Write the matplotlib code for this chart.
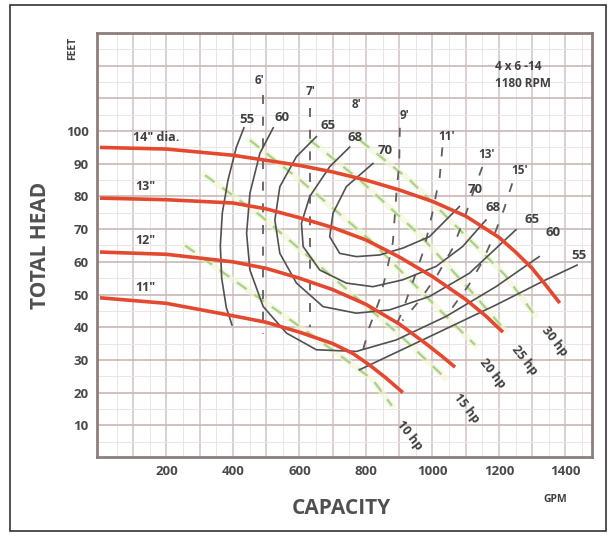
import matplotlib.pyplot as plt
from matplotlib.patches import Rectangle

plt.rcParams['font.family'] = ['Open Sans', 'DejaVu Sans']

# head-capacity curves, one per impeller diameter (GPM, feet)
dia_labels = ['14" dia.', '13"', '12"', '11"']
dia_label_pos = [(99, 97.9), (105, 82.9), (105, 66.5), (105, 52.3)]
q_14 = [0, 200, 400, 600, 700, 800, 900, 1000, 1100, 1200, 1250, 1300, 1340, 1383]
h_14 = [95, 94.5, 92.6, 89.5, 87.5, 85, 82, 78.5, 74, 67.5, 63, 58, 53, 47.4]
q_13 = [0, 200, 400, 500, 600, 700, 800, 900, 1000, 1100, 1160, 1212]
h_13 = [79.5, 79, 78, 76.2, 73.5, 70.5, 66.7, 61.5, 55.5, 48.5, 43.5, 38.5]
q_12 = [0, 200, 400, 500, 600, 700, 800, 900, 980, 1030, 1068]
h_12 = [63, 62.3, 60, 58, 55, 51.5, 47, 41, 35, 31, 27.8]
q_11 = [0, 200, 400, 500, 600, 700, 760, 810, 860, 911]
h_11 = [49, 47.3, 43.5, 41.5, 38.5, 35, 32, 28.5, 24.5, 20]

# iso-efficiency curves (%)
eff_55_left_q = [433, 410, 385, 368, 362, 366, 380, 397]
eff_55_left_h = [101, 95, 85, 75, 65, 55, 46, 40.7]
eff_55_right_q = [781, 991, 1191, 1341, 1435]
eff_55_right_h = [27, 37.1, 46.8, 54.5, 59]
eff_60_q = [521, 481, 451, 441, 451, 491, 561, 651, 771, 891, 1041, 1191, 1321]
eff_60_h = [101, 93.2, 81, 68.7, 57.5, 46.3, 38.2, 33.1, 32.6, 36.1, 43.3, 52.4, 61.6]
eff_65_q = [651, 591, 541, 526, 541, 591, 671, 771, 871, 991, 1111, 1251]
eff_65_h = [98.3, 92.2, 83, 72.8, 62.6, 53.5, 46.3, 44.3, 45.3, 49.4, 56.5, 69.8]
eff_68_q = [751, 691, 631, 606, 611, 661, 741, 821, 911, 1011, 1091, 1161]
eff_68_h = [95.1, 89.1, 80, 71.8, 64.7, 57.5, 53.5, 52.4, 54.5, 58.6, 64.7, 72.8]
eff_70_q = [821, 741, 701, 691, 721, 771, 841, 911, 991, 1081]
eff_70_h = [90.1, 83, 74.9, 67.7, 62.6, 61.6, 62.1, 64.2, 67.7, 76.9]

eff_top_labels = ['55', '60', '65', '68', '70']
eff_top_pos = [(442, 103.4), (547, 104), (686, 101.8), (767, 97.9), (857, 94.2)]
eff_right_labels = ['70', '68', '65', '60', '55']
eff_right_pos = [(1128, 82), (1183, 76.5), (1299, 72.8), (1362, 69.1), (1440, 62)]

# NPSH required (dashed)
npsh_labels = ["6'", "7'", "8'", "9'", "11'", "13'", "15'"]
npsh_label_pos = [(481, 115.6), (632, 112), (773, 108), (917, 104.9),
                  (1044, 98.2), (1164, 92.7), (1263, 88)]
npsh_6_q = [490, 490]
npsh_6_h = [111, 38]
npsh_7_q = [632, 632]
npsh_7_h = [107, 40]
npsh_9_q = [902, 900, 891, 881, 861, 841, 811, 791]
npsh_9_h = [101, 90, 80, 66, 56.5, 48.4, 40.2, 33]
npsh_11_q = [1030, 1022, 1000, 975, 945, 910, 880]
npsh_11_h = [95, 86, 75, 64, 55, 45, 38]
npsh_13_q = [1150, 1125, 1095, 1060, 1015, 960, 910]
npsh_13_h = [89, 82, 73, 64, 56, 48, 42]
npsh_15_q = [1240, 1215, 1185, 1150, 1110, 1060]
npsh_15_h = [84, 76, 68, 60, 53, 46]

# brake horsepower lines
hp_labels = ['10 hp', '15 hp', '20 hp', '25 hp', '30 hp']
hp_label_pos = [(932, 7), (1101, 15.3), (1182, 26), (1278, 30), (1368, 35.8)]
hp_10_q = [256, 436, 562, 700, 820, 878]
hp_10_h = [65, 52, 43, 33, 24, 16]
hp_15_q = [316, 481, 692, 902, 1038]
hp_15_h = [86.5, 74.3, 56, 37.6, 24.5]
hp_20_q = [451, 602, 812, 992, 1128]
hp_20_h = [97.2, 85, 66.7, 48.3, 34.6]
hp_25_q = [632, 782, 962, 1113, 1218]
hp_25_h = [97.2, 85, 68.2, 51.4, 39.1]
hp_30_q = [782, 932, 1083, 1218, 1308]
hp_30_h = [97.2, 85, 69.7, 56, 43.7]

x_ticks = [200, 400, 600, 800, 1000, 1200, 1400]
y_ticks = [10, 20, 30, 40, 50, 60, 70, 80, 90, 100]

W, H = 614, 538
fig = plt.figure(figsize=(W / 100, H / 100), dpi=100)
fig.patch.set_facecolor('white')
fig.patches.append(Rectangle((10 / W, 1 - 531 / H), 596 / W, 526 / H,
                             transform=fig.transFigure, fill=False,
                             edgecolor='#333333', lw=1.2))

ax = fig.add_axes([97 / W, 1 - 457 / H, (592 - 97) / W, (457 - 33) / H])
ax.set_xlim(-9, 1480)
ax.set_ylim(0.3, 130)

# grid
for x in range(50, 1480, 100):
    ax.axvline(x, color='#ece5e3', lw=0.7, zorder=0)
for x in range(100, 1480, 100):
    ax.axvline(x, color='#d0c2bf', lw=1.1, zorder=0)
for y in range(5, 130, 10):
    ax.axhline(y, color='#ece5e3', lw=0.7, zorder=0)
for y in range(10, 130, 10):
    ax.axhline(y, color='#cbbdba', lw=1.3, zorder=0)

for s in ax.spines.values():
    s.set_color('#8d7e7b')
    s.set_linewidth(2)

ax.set_xticks(x_ticks)
ax.set_yticks(y_ticks)
ax.tick_params(length=0, labelsize=9.5, labelcolor='#4a4a4a', pad=6)
for lab in ax.get_xticklabels() + ax.get_yticklabels():
    lab.set_fontweight('bold')

# horsepower lines (light green dashes with a pale glow)
hp_series = [(hp_10_q, hp_10_h), (hp_15_q, hp_15_h), (hp_20_q, hp_20_h),
             (hp_25_q, hp_25_h), (hp_30_q, hp_30_h)]
for q, h in hp_series:
    ax.plot(q, h, color='#f2f4d6', lw=4.5, alpha=0.6, zorder=1)
    ax.plot(q, h, color='#a9d38a', lw=1.7, dashes=(5, 4), zorder=2)
for txt, (x, y) in zip(hp_labels, hp_label_pos):
    ax.text(x, y, txt, rotation=-52, ha='center', va='center', fontsize=9,
            fontweight='bold', color='#3f3f3f', zorder=6)

# NPSH dashed lines
npsh_series = [(npsh_6_q, npsh_6_h), (npsh_7_q, npsh_7_h), (npsh_9_q, npsh_9_h),
               (npsh_11_q, npsh_11_h), (npsh_13_q, npsh_13_h), (npsh_15_q, npsh_15_h)]
for q, h in npsh_series:
    ax.plot(q, h, color='#5e5e5e', lw=1.3, dashes=(5, 7), zorder=3)
for txt, (x, y) in zip(npsh_labels, npsh_label_pos):
    ax.text(x, y, txt, ha='center', va='center', fontsize=8.5,
            fontweight='bold', color='#3f3f3f', zorder=6)

# efficiency curves
eff_series = [(eff_55_left_q, eff_55_left_h), (eff_55_right_q, eff_55_right_h),
              (eff_60_q, eff_60_h), (eff_65_q, eff_65_h),
              (eff_68_q, eff_68_h), (eff_70_q, eff_70_h)]
for q, h in eff_series:
    ax.plot(q, h, color='#505050', lw=1.2, zorder=4)
for txt, (x, y) in zip(eff_top_labels + eff_right_labels, eff_top_pos + eff_right_pos):
    ax.text(x, y, txt, ha='center', va='center', fontsize=9.5,
            fontweight='bold', color='#3f3f3f', zorder=6)

# head curves
head_series = [(q_14, h_14), (q_13, h_13), (q_12, h_12), (q_11, h_11)]
for q, h in head_series:
    ax.plot(q, h, color='#e4482e', lw=2.6, solid_capstyle='butt', zorder=5)
for txt, (x, y) in zip(dia_labels, dia_label_pos):
    ax.text(x, y, txt, ha='left', va='center', fontsize=9,
            fontweight='bold', color='#3f3f3f', zorder=6)

ax.text(0.805, 0.937, '4 x 6 -14\n1180 RPM', transform=ax.transAxes, ha='left',
        va='top', fontsize=8.5, fontweight='bold', color='#3f3f3f', linespacing=1.4)

fig.text(40 / W, 1 - 245 / H, 'TOTAL HEAD', rotation=90, ha='center', va='center',
         fontsize=15, fontweight='bold', color='#505050')
fig.text(73 / W, 1 - 48 / H, 'FEET', rotation=90, ha='center', va='center',
         fontsize=7.5, fontweight='bold', color='#3f3f3f')
fig.text(341 / W, 1 - 509 / H, 'CAPACITY', ha='center', va='center',
         fontsize=15, fontweight='bold', color='#505050')
fig.text(555 / W, 1 - 500 / H, 'GPM', ha='center', va='center',
         fontsize=7.5, fontweight='bold', color='#3f3f3f')

fig.savefig('out.png', dpi=100)
